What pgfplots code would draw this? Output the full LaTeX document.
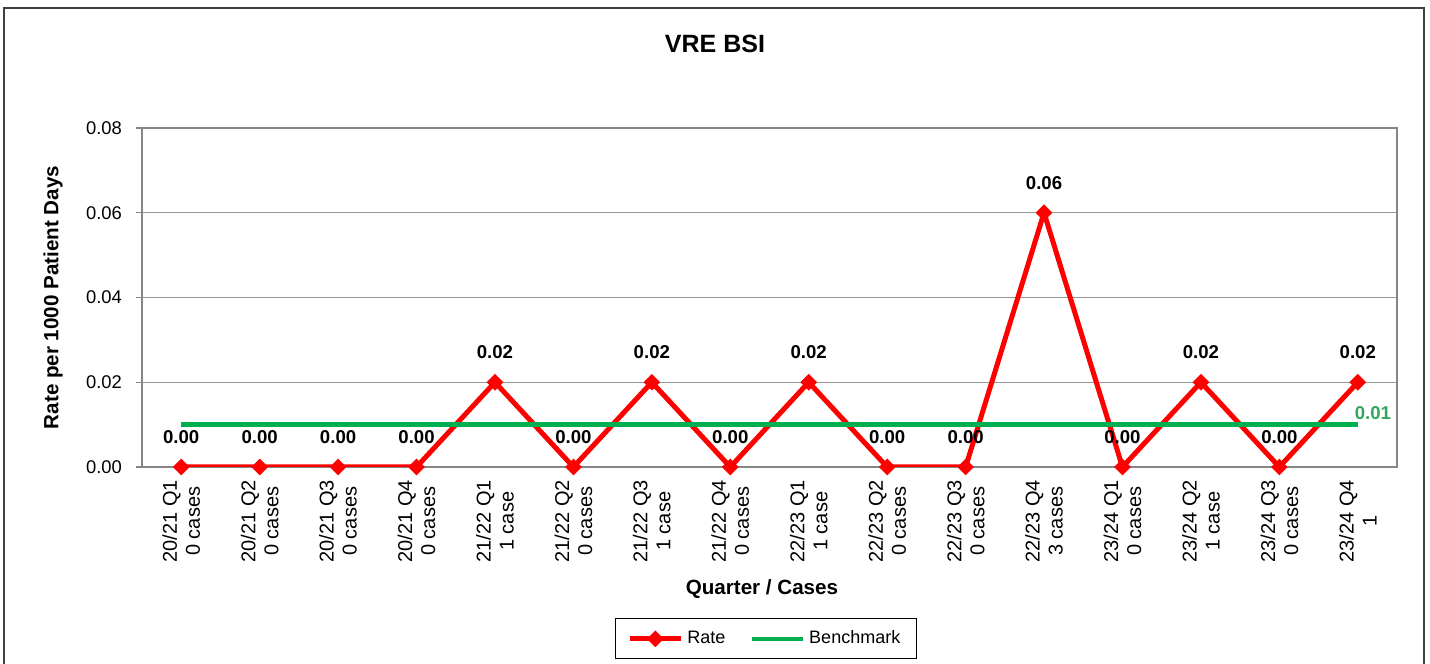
\documentclass[border=0pt]{standalone}
\usepackage{pgfplots}
\pgfplotsset{compat=1.18}
\usepackage{fontspec}
\setmainfont{Liberation Sans}
\definecolor{rateRed}{RGB}{255,0,0}
\definecolor{benchGreen}{RGB}{0,176,80}
\definecolor{labGreen}{RGB}{51,165,95}
\definecolor{axisGray}{RGB}{134,134,134}
\definecolor{gridGray}{RGB}{150,150,150}
\begin{document}
\begin{tikzpicture}[x=0.5pt,y=0.5pt]
\useasboundingbox (0,0) rectangle (1430,664);
\draw[black!75, line width=0.6pt] (4,-10) rectangle (1424,656);
\node[font=\bfseries\fontsize{12.5}{14}\selectfont] at (715,620) {VRE BSI};
\begin{axis}[
  at={(71pt,98.5pt)}, anchor=south west,
  scale only axis, width=627.5pt, height=169.5pt,
  xmin=-0.5, xmax=15.5, ymin=0, ymax=0.08,
  axis line style={axisGray, line width=0.6pt},
  ytick={0,0.02,0.04,0.06,0.08},
  scaled y ticks=false,
  ymajorgrids, grid style={gridGray, line width=0.6pt},
  xtick={0,1,...,15},
  minor xtick={-0.5,0.5,...,15.5},
  xtick pos=bottom, ytick pos=left,
  tick align=outside,
  major tick length=3pt,
  every x tick/.style={draw=none},
  every minor x tick/.style={axisGray, line width=0.6pt},
  minor tick length=3pt,
  every y tick/.style={axisGray, line width=0.6pt},
  /pgf/number format/.cd, fixed, fixed zerofill, precision=2, assume math mode=true,
  /pgfplots/.cd,
  yticklabel style={font=\fontsize{9.2}{11}\selectfont, anchor=east, xshift=-3.5pt},
  xticklabels={{20/21 Q1\\0 cases},{20/21 Q2\\0 cases},{20/21 Q3\\0 cases},{20/21 Q4\\0 cases},
    {21/22 Q1\\1 case},{21/22 Q2\\0 cases},{21/22 Q3\\1 case},{21/22 Q4\\0 cases},
    {22/23 Q1\\1 case},{22/23 Q2\\0 cases},{22/23 Q3\\0 cases},{22/23 Q4\\3 cases},
    {23/24 Q1\\0 cases},{23/24 Q2\\1 case},{23/24 Q3\\0 cases},{23/24 Q4\\1}},
  xticklabel style={font=\fontsize{10}{11.5}\selectfont, rotate=90, anchor=east, align=center},
  ylabel={Rate per 1000 Patient Days},
  ylabel style={font=\bfseries\fontsize{10.3}{12}\selectfont, at={(axis description cs:-0.0709,0.5)}, anchor=center},
  xlabel={Quarter / Cases},
  xlabel style={font=\bfseries\fontsize{10.3}{12}\selectfont, at={(axis description cs:0.494,-0.36)}, anchor=center},
  legend columns=2,
  legend style={draw=black, line width=0.6pt, at={(axis description cs:0.497,-0.507)}, anchor=center,
    font=\fontsize{9}{11}\selectfont, inner xsep=6pt, inner ysep=4pt,
    /tikz/every even column/.append style={column sep=10pt}},
  legend image code/.code={\draw[mark repeat=2,mark phase=2,#1] plot coordinates {(0cm,0cm) (0.45cm,0cm) (0.9cm,0cm)};},
]
\addplot[rateRed, line width=2.5pt, mark=square*, mark size=2.7pt,
  mark options={solid, fill=rateRed, draw=rateRed, line width=0.5pt, rotate=45},
  nodes near coords,
  every node near coord/.append style={font=\bfseries\fontsize{9.3}{11}\selectfont, text=black, anchor=center, yshift=15pt}]
  coordinates {(0,0) (1,0) (2,0) (3,0) (4,0.02) (5,0) (6,0.02) (7,0) (8,0.02) (9,0) (10,0) (11,0.06) (12,0) (13,0.02) (14,0) (15,0.02)};
\addlegendentry{Rate}
\addplot[benchGreen, line width=2.3pt, no markers]
  coordinates {(0,0.01) (1,0.01) (2,0.01) (3,0.01) (4,0.01) (5,0.01) (6,0.01) (7,0.01) (8,0.01) (9,0.01) (10,0.01) (11,0.01) (12,0.01) (13,0.01) (14,0.01) (15,0.01)}
  node[pos=1, anchor=west, text=labGreen, font=\bfseries\fontsize{9.3}{11}\selectfont, yshift=6pt, xshift=-6pt] {0.01};
\addlegendentry{Benchmark}
\end{axis}
\end{tikzpicture}
\end{document}
